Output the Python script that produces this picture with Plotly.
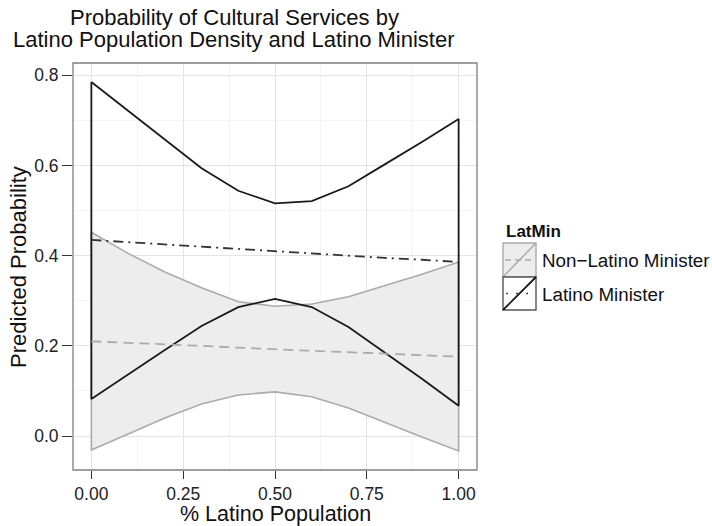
import plotly.graph_objects as go

# ---- data ----
pct_latino = [0.0, 0.1, 0.2, 0.3, 0.4, 0.5, 0.6, 0.7, 0.8, 0.9, 1.0]

latino_upper = [0.785, 0.721, 0.657, 0.594, 0.544, 0.516, 0.521, 0.554, 0.603, 0.652, 0.703]
latino_lower = [0.082, 0.136, 0.191, 0.244, 0.286, 0.304, 0.286, 0.242, 0.185, 0.127, 0.067]
latino_mean = [0.435, 0.430, 0.425, 0.420, 0.415, 0.409, 0.405, 0.400, 0.395, 0.391, 0.386]

nonlatino_upper = [0.452, 0.405, 0.364, 0.329, 0.298, 0.288, 0.293, 0.309, 0.334, 0.359, 0.386]
nonlatino_lower = [-0.031, 0.004, 0.040, 0.071, 0.091, 0.098, 0.087, 0.062, 0.030, -0.002, -0.033]
nonlatino_mean = [0.210, 0.207, 0.203, 0.200, 0.196, 0.192, 0.189, 0.186, 0.183, 0.179, 0.176]

group_labels = ["Non\u2212Latino Minister", "Latino Minister"]
legend_title = "LatMin"
x_ticks = [0.0, 0.25, 0.5, 0.75, 1.0]
x_ticktext = ["0.00", "0.25", "0.50", "0.75", "1.00"]
y_ticks = [0.0, 0.2, 0.4, 0.6, 0.8]
y_ticktext = ["0.0", "0.2", "0.4", "0.6", "0.8"]

W, H = 712, 526
ML, MR, MT, MB = 73, 235, 63, 56
PW, PH = W - ML - MR, H - MT - MB


def px_x(p):
    return (p - ML) / PW


def px_y(p):
    return (H - MB - p) / PH


FONT = "Liberation Sans, Arial, Helvetica, sans-serif"
GREY_LINE = "#ababab"
GREY_FILL = "#ededed"
BLACK = "#1a1a1a"


def ribbon(xs, lo, hi):
    return xs + xs[::-1] + [xs[0]], hi + lo[::-1] + [hi[0]]


fig = go.Figure()

rx, ry = ribbon(pct_latino, nonlatino_lower, nonlatino_upper)
fig.add_trace(go.Scatter(x=rx, y=ry, mode="lines", fill="toself",
                         fillcolor=GREY_FILL, line=dict(color=GREY_LINE, width=1.6),
                         showlegend=False, hoverinfo="skip"))
rx, ry = ribbon(pct_latino, latino_lower, latino_upper)
fig.add_trace(go.Scatter(x=rx, y=ry, mode="lines", fill="none",
                         line=dict(color=BLACK, width=1.8),
                         showlegend=False, hoverinfo="skip"))
fig.add_trace(go.Scatter(x=pct_latino, y=nonlatino_mean, mode="lines",
                         line=dict(color=GREY_LINE, width=1.8, dash="10px,6px"),
                         name=group_labels[0], showlegend=False))
fig.add_trace(go.Scatter(x=pct_latino, y=latino_mean, mode="lines",
                         line=dict(color="#333333", width=1.8, dash="10px,5px,2px,5px"),
                         name=group_labels[1], showlegend=False))

axis_common = dict(
    showline=False, zeroline=False,
    showgrid=True, gridcolor="#e3e3e3", gridwidth=1,
    ticks="outside", tickwidth=1.4, tickcolor="#333333",
    tickfont=dict(family=FONT, size=17.5, color="#222222"),
)

fig.update_xaxes(range=[-0.05, 1.05], tickvals=x_ticks, ticktext=x_ticktext, ticklen=8,
                 minor=dict(dtick=0.125, tick0=0, showgrid=True, gridcolor="#f4f4f4",
                            ticks=""),
                 **axis_common)
fig.update_yaxes(range=[-0.0753, 0.8273], tickvals=y_ticks, ticktext=y_ticktext, ticklen=10,
                 minor=dict(dtick=0.1, tick0=0, showgrid=True, gridcolor="#f4f4f4",
                            ticks=""),
                 **axis_common)

shapes = [
    dict(type="rect", xref="paper", yref="paper", x0=0, y0=0, x1=1, y1=1,
         line=dict(color="#7f7f7f", width=1.3), layer="above"),
]
# legend keys
k1 = (503, 243, 536, 277)
k2 = (503, 277, 536, 310)
shapes += [
    dict(type="rect", xref="paper", yref="paper",
         x0=px_x(k1[0]), y0=px_y(k1[3]), x1=px_x(k1[2]), y1=px_y(k1[1]),
         fillcolor=GREY_FILL, line=dict(color=GREY_LINE, width=1.4)),
    dict(type="line", xref="paper", yref="paper",
         x0=px_x(k1[0]), y0=px_y(k1[3]), x1=px_x(k1[2]), y1=px_y(k1[1]),
         line=dict(color=GREY_LINE, width=1.5)),
    dict(type="line", xref="paper", yref="paper",
         x0=px_x(k1[0] + 2), y0=px_y((k1[1] + k1[3]) / 2),
         x1=px_x(k1[2] - 2), y1=px_y((k1[1] + k1[3]) / 2),
         line=dict(color=GREY_LINE, width=1.5, dash="6px,4px")),
    dict(type="rect", xref="paper", yref="paper",
         x0=px_x(k2[0]), y0=px_y(k2[3]), x1=px_x(k2[2]), y1=px_y(k2[1]),
         fillcolor="white", line=dict(color="#555555", width=1.4)),
    dict(type="line", xref="paper", yref="paper",
         x0=px_x(k2[0]), y0=px_y(k2[3]), x1=px_x(k2[2]), y1=px_y(k2[1]),
         line=dict(color=BLACK, width=1.8)),
    dict(type="line", xref="paper", yref="paper",
         x0=px_x(k2[0] + 3), y0=px_y((k2[1] + k2[3]) / 2),
         x1=px_x(k2[2] - 3), y1=px_y((k2[1] + k2[3]) / 2),
         line=dict(color="#444444", width=1.5, dash="2px,8px")),
]

annotations = [
    dict(text="Probability of Cultural Services by", x=px_x(234), y=px_y(17.5),
         xref="paper", yref="paper", showarrow=False, xanchor="center", yanchor="middle",
         font=dict(family=FONT, size=22, color="#111111")),
    dict(text="Latino Population Density and Latino Minister", x=px_x(234), y=px_y(39.5),
         xref="paper", yref="paper", showarrow=False, xanchor="center", yanchor="middle",
         font=dict(family=FONT, size=22, color="#111111")),
    dict(text="% Latino Population", x=0.5, y=px_y(514),
         xref="paper", yref="paper", showarrow=False, xanchor="center", yanchor="middle",
         font=dict(family=FONT, size=21.5, color="#111111")),
    dict(text="Predicted Probability", x=px_x(18), y=px_y(267), textangle=-90,
         xref="paper", yref="paper", showarrow=False, xanchor="center", yanchor="middle",
         font=dict(family=FONT, size=22, color="#111111")),
    dict(text="<b>" + legend_title + "</b>", x=px_x(504), y=px_y(231),
         xref="paper", yref="paper", showarrow=False, xanchor="left", yanchor="middle",
         font=dict(family=FONT, size=17, color="#111111")),
    dict(text=group_labels[0], x=px_x(540), y=px_y(260),
         xref="paper", yref="paper", showarrow=False, xanchor="left", yanchor="middle",
         font=dict(family=FONT, size=18.8, color="#111111")),
    dict(text=group_labels[1], x=px_x(540), y=px_y(294),
         xref="paper", yref="paper", showarrow=False, xanchor="left", yanchor="middle",
         font=dict(family=FONT, size=18.8, color="#111111")),
]

fig.update_layout(
    width=W, height=H, autosize=False,
    margin=dict(l=ML, r=MR, t=MT, b=MB),
    paper_bgcolor="white", plot_bgcolor="white",
    showlegend=False,
    shapes=shapes, annotations=annotations,
)

fig.write_html("out.html", config={"displayModeBar": False},
               post_script="document.body.style.margin='0';document.body.style.overflow='hidden';")
